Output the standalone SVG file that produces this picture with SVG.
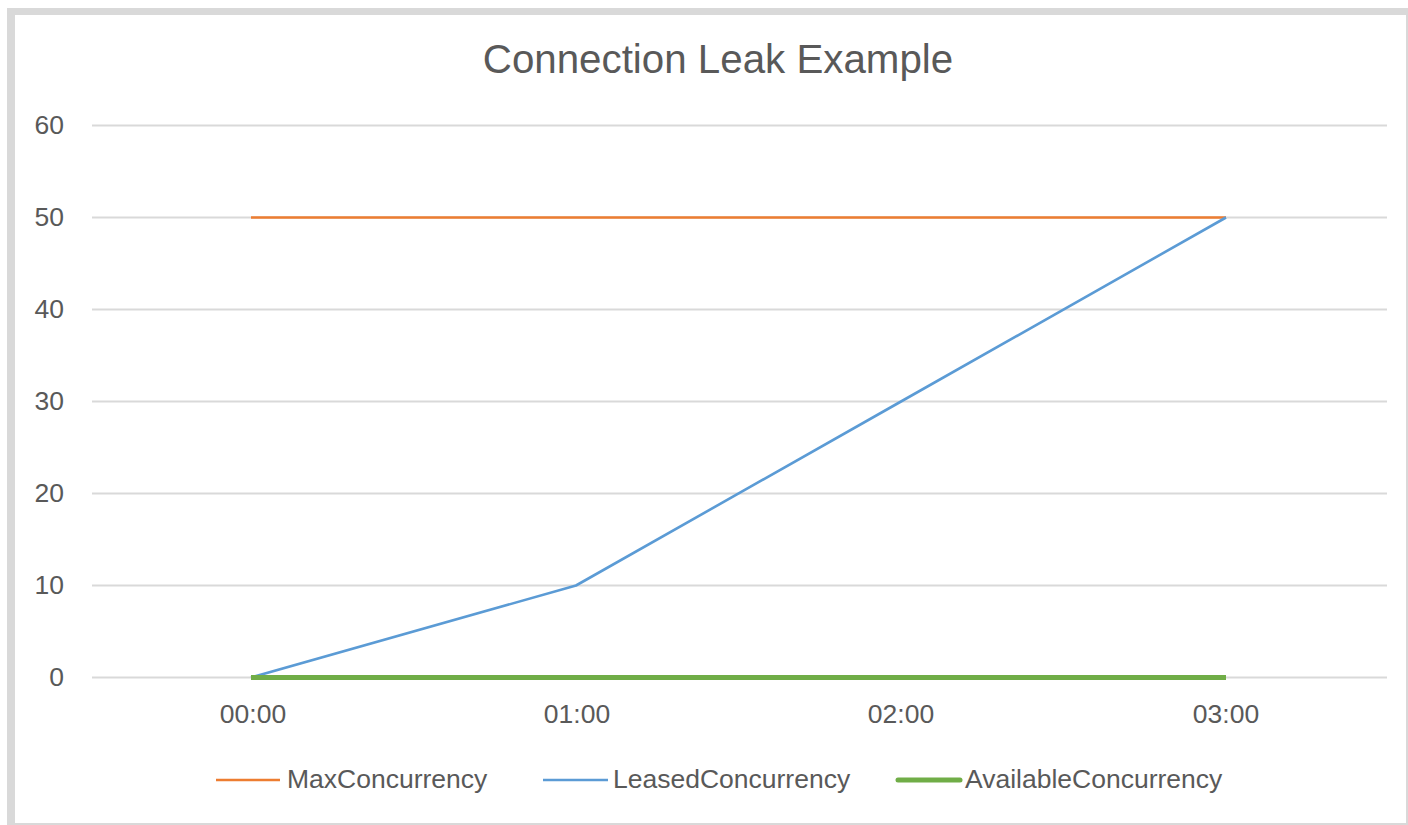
<svg xmlns="http://www.w3.org/2000/svg" width="1408" height="825" viewBox="0 0 1408 825">
<style>
.t{font-family:"Liberation Sans",Arial,sans-serif;fill:#595959}
.ax{font-size:26.5px}
.grid line{stroke:#d9d9d9;stroke-width:2.2}
.s{fill:none;stroke-linejoin:round}
</style>
<rect x="0" y="0" width="1408" height="825" fill="#ffffff"/>
<rect x="7" y="8" width="1401" height="817" fill="#d9d9d9"/>
<rect x="15" y="15" width="1391" height="808" fill="#ffffff"/>
<g id="title"><text class="t" x="718" y="73" font-size="40.3" text-anchor="middle">Connection Leak Example</text></g>
<g id="grid" class="grid">
<line x1="92" y1="125.5" x2="1387" y2="125.5"/>
<line x1="92" y1="217.5" x2="1387" y2="217.5"/>
<line x1="92" y1="309.5" x2="1387" y2="309.5"/>
<line x1="92" y1="401.5" x2="1387" y2="401.5"/>
<line x1="92" y1="493.5" x2="1387" y2="493.5"/>
<line x1="92" y1="585.5" x2="1387" y2="585.5"/>
<line x1="92" y1="677.5" x2="1387" y2="677.5"/>
</g>
<g id="y-axis" class="t ax" text-anchor="end">
<text x="64" y="134">60</text>
<text x="64" y="226">50</text>
<text x="64" y="318">40</text>
<text x="64" y="410">30</text>
<text x="64" y="502">20</text>
<text x="64" y="594">10</text>
<text x="64" y="686">0</text>
</g>
<g id="x-axis" class="t ax" text-anchor="middle">
<text x="253" y="723">00:00</text>
<text x="577" y="723">01:00</text>
<text x="901" y="723">02:00</text>
<text x="1226" y="723">03:00</text>
</g>
<g id="series">
<polyline id="max" class="s" points="251,217.5 576,217.5 901,217.5 1226,217.5" stroke="#ed7d31" stroke-width="2.6"/>
<polyline id="leased" class="s" points="251,677.5 576,585.5 901,401.5 1226,217.5" stroke="#5b9bd5" stroke-width="2.6"/>
<polyline id="available" class="s" points="251,677.5 576,677.5 901,677.5 1226,677.5" stroke="#70ad47" stroke-width="5"/>
</g>
<g id="legend" class="t ax">
<line x1="216" y1="780" x2="280" y2="780" stroke="#ed7d31" stroke-width="2.6"/>
<text x="287" y="788">MaxConcurrency</text>
<line x1="543" y1="780" x2="608" y2="780" stroke="#5b9bd5" stroke-width="2.6"/>
<text x="613" y="788">LeasedConcurrency</text>
<line x1="898" y1="780" x2="960" y2="780" stroke="#70ad47" stroke-width="5" stroke-linecap="round"/>
<text x="965" y="788">AvailableConcurrency</text>
</g>
</svg>
